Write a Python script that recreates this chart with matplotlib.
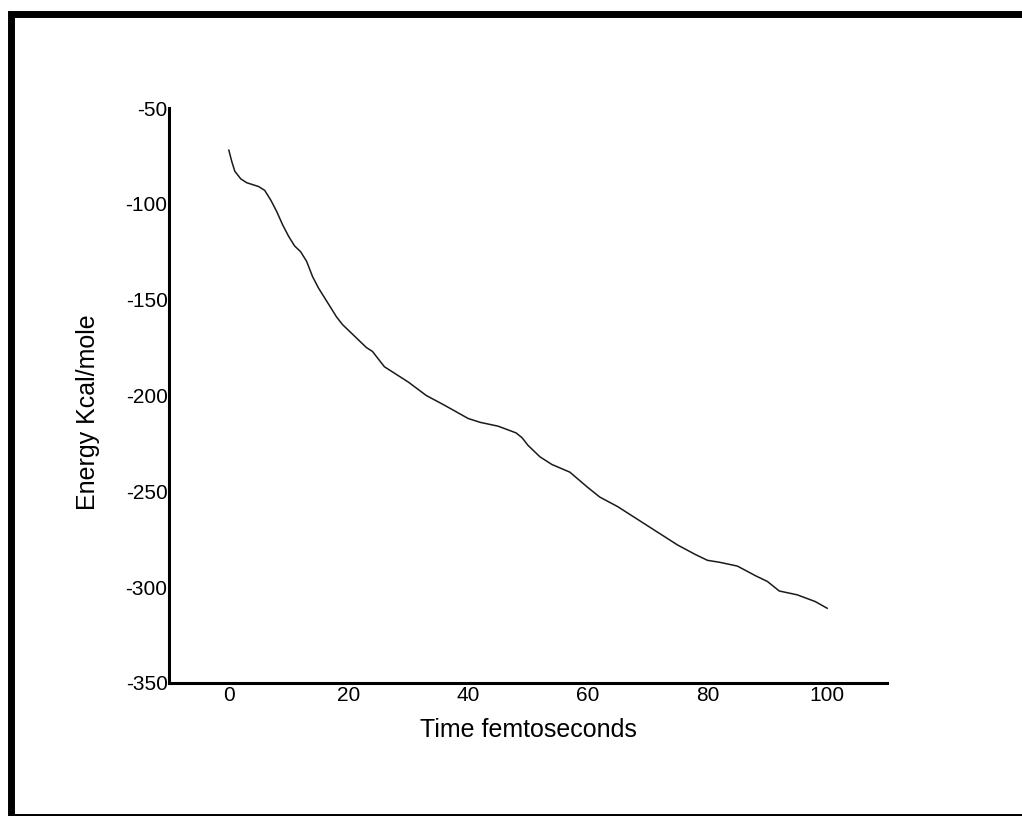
import matplotlib
matplotlib.use("Agg")
import matplotlib.pyplot as plt
from matplotlib.patches import Rectangle

# dados
time_fs = [0, 0.5, 1, 2, 3, 4, 5, 6, 7, 8, 9, 10, 11, 12, 13, 14, 15, 16, 17, 18,
           19, 20, 21, 22, 23, 24, 25, 26, 27, 28, 30, 33, 36, 40, 42, 45, 48, 49,
           50, 52, 54, 57, 60, 62, 65, 68, 70, 73, 75, 78, 80, 82, 85, 88, 90, 92,
           95, 98, 100]
energy = [-72, -78, -83, -87, -89, -90, -91, -93, -98, -104, -111, -117, -122, -125,
          -130, -138, -144, -149, -154, -159, -163, -166, -169, -172, -175, -177,
          -181, -185, -187, -189, -193, -200, -205, -212, -214, -216, -219.5, -222,
          -226, -232, -236, -240, -248, -253, -258, -264, -268, -274, -278, -283,
          -286, -287, -289, -294, -297, -302, -304, -307.5, -311]
x_ticks = [0, 20, 40, 60, 80, 100]
y_ticks = [-350, -300, -250, -200, -150, -100, -50]

plt.rcParams['font.family'] = ['Liberation Sans', 'DejaVu Sans']
plt.rcParams['axes.unicode_minus'] = False

W, H = 1022, 816
fig = plt.figure(figsize=(W / 100, H / 100), dpi=100)
ax = fig.add_axes([169 / W, 1 - 683 / H, 718 / W, 575 / H])

ax.plot(time_fs, energy, color='#1a1a1a', linewidth=1.1)

ax.set_xlim(-10, 110)
ax.set_ylim(-350, -50)
ax.set_xticks(x_ticks)
ax.set_yticks(y_ticks)
ax.tick_params(axis='both', length=0, labelsize=15)
ax.tick_params(axis='y', pad=1)
ax.tick_params(axis='x', pad=2)

for side in ['top', 'right']:
    ax.spines[side].set_visible(False)
for side in ['left', 'bottom']:
    ax.spines[side].set_linewidth(2.2)
    ax.spines[side].set_color('black')

fig.text(528 / W, 1 - 730 / H, 'Time femtoseconds', fontsize=18, ha='center', va='center')
fig.text(88 / W, 1 - 412 / H, 'Energy Kcal/mole', fontsize=18, ha='center', va='center',
         rotation=90)

# moldura preta grossa
fig.add_artist(Rectangle((10.5 / W, 1 - 817 / H), 1040 / W, (817 - 13.5) / H,
                         transform=fig.transFigure, fill=False, edgecolor='black',
                         linewidth=5.0, clip_on=False))

fig.savefig('out.png', dpi=100)
